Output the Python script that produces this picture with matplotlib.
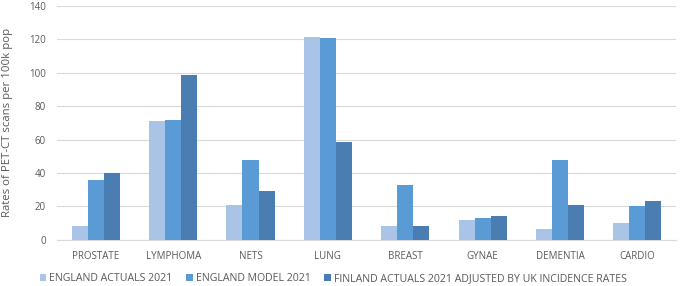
import numpy as np
import matplotlib.pyplot as plt

categories = ["PROSTATE", "LYMPHOMA", "NETS", "LUNG", "BREAST", "GYNAE", "DEMENTIA", "CARDIO"]
england_actuals = [8, 71, 20.5, 121.5, 8, 11.5, 6.5, 10]
england_model = [35.5, 71.5, 47.5, 121, 32.5, 13, 47.5, 20]
finland_adjusted = [40, 98.5, 29, 58.5, 8, 14, 20.5, 23]
series_names = ["ENGLAND ACTUALS 2021", "ENGLAND MODEL 2021",
                "FINLAND ACTUALS 2021 ADJUSTED BY UK INCIDENCE RATES"]
colors = ["#A9C4E6", "#5B9BD5", "#4A7EB2"]

plt.rcParams['font.family'] = ['Open Sans', 'DejaVu Sans']
txt = "#595959"

fig = plt.figure(figsize=(6.8, 2.86), dpi=100)
ax = fig.add_axes([0.084, 0.162, 0.910, 0.817])

x = np.arange(len(categories))
w = 0.207
for i, (vals, name) in enumerate(zip([england_actuals, england_model, finland_adjusted], series_names)):
    ax.bar(x + (i - 1) * w, vals, w, color=colors[i], label=name, zorder=3)

ax.set_xlim(-0.5, len(categories) - 0.5)
ax.set_ylim(0, 140)
ax.set_yticks(range(0, 141, 20))
ax.grid(axis='y', color="#D9D9D9", lw=0.8, zorder=0)
for s in ["top", "right", "left"]:
    ax.spines[s].set_visible(False)
ax.spines["bottom"].set_color("#D9D9D9")
ax.set_xticks(x)
ax.set_xticklabels(categories)
ax.tick_params(axis='x', length=0, labelsize=7, colors=txt, pad=8)
ax.tick_params(axis='y', length=0, labelsize=7, colors=txt, pad=8)
ax.set_ylabel("Rates of PET-CT scans per 100k pop", fontsize=8.2, color=txt, labelpad=6)
ax.yaxis.set_label_coords(-0.072, 0.5)

fig.legend(loc="center", bbox_to_anchor=(0.49, 0.026), ncol=3, frameon=False,
           fontsize=7.6, labelcolor=txt, handlelength=0.6, handleheight=0.6,
           columnspacing=1.3, handletextpad=0.3)

fig.savefig("out.png", dpi=100)
